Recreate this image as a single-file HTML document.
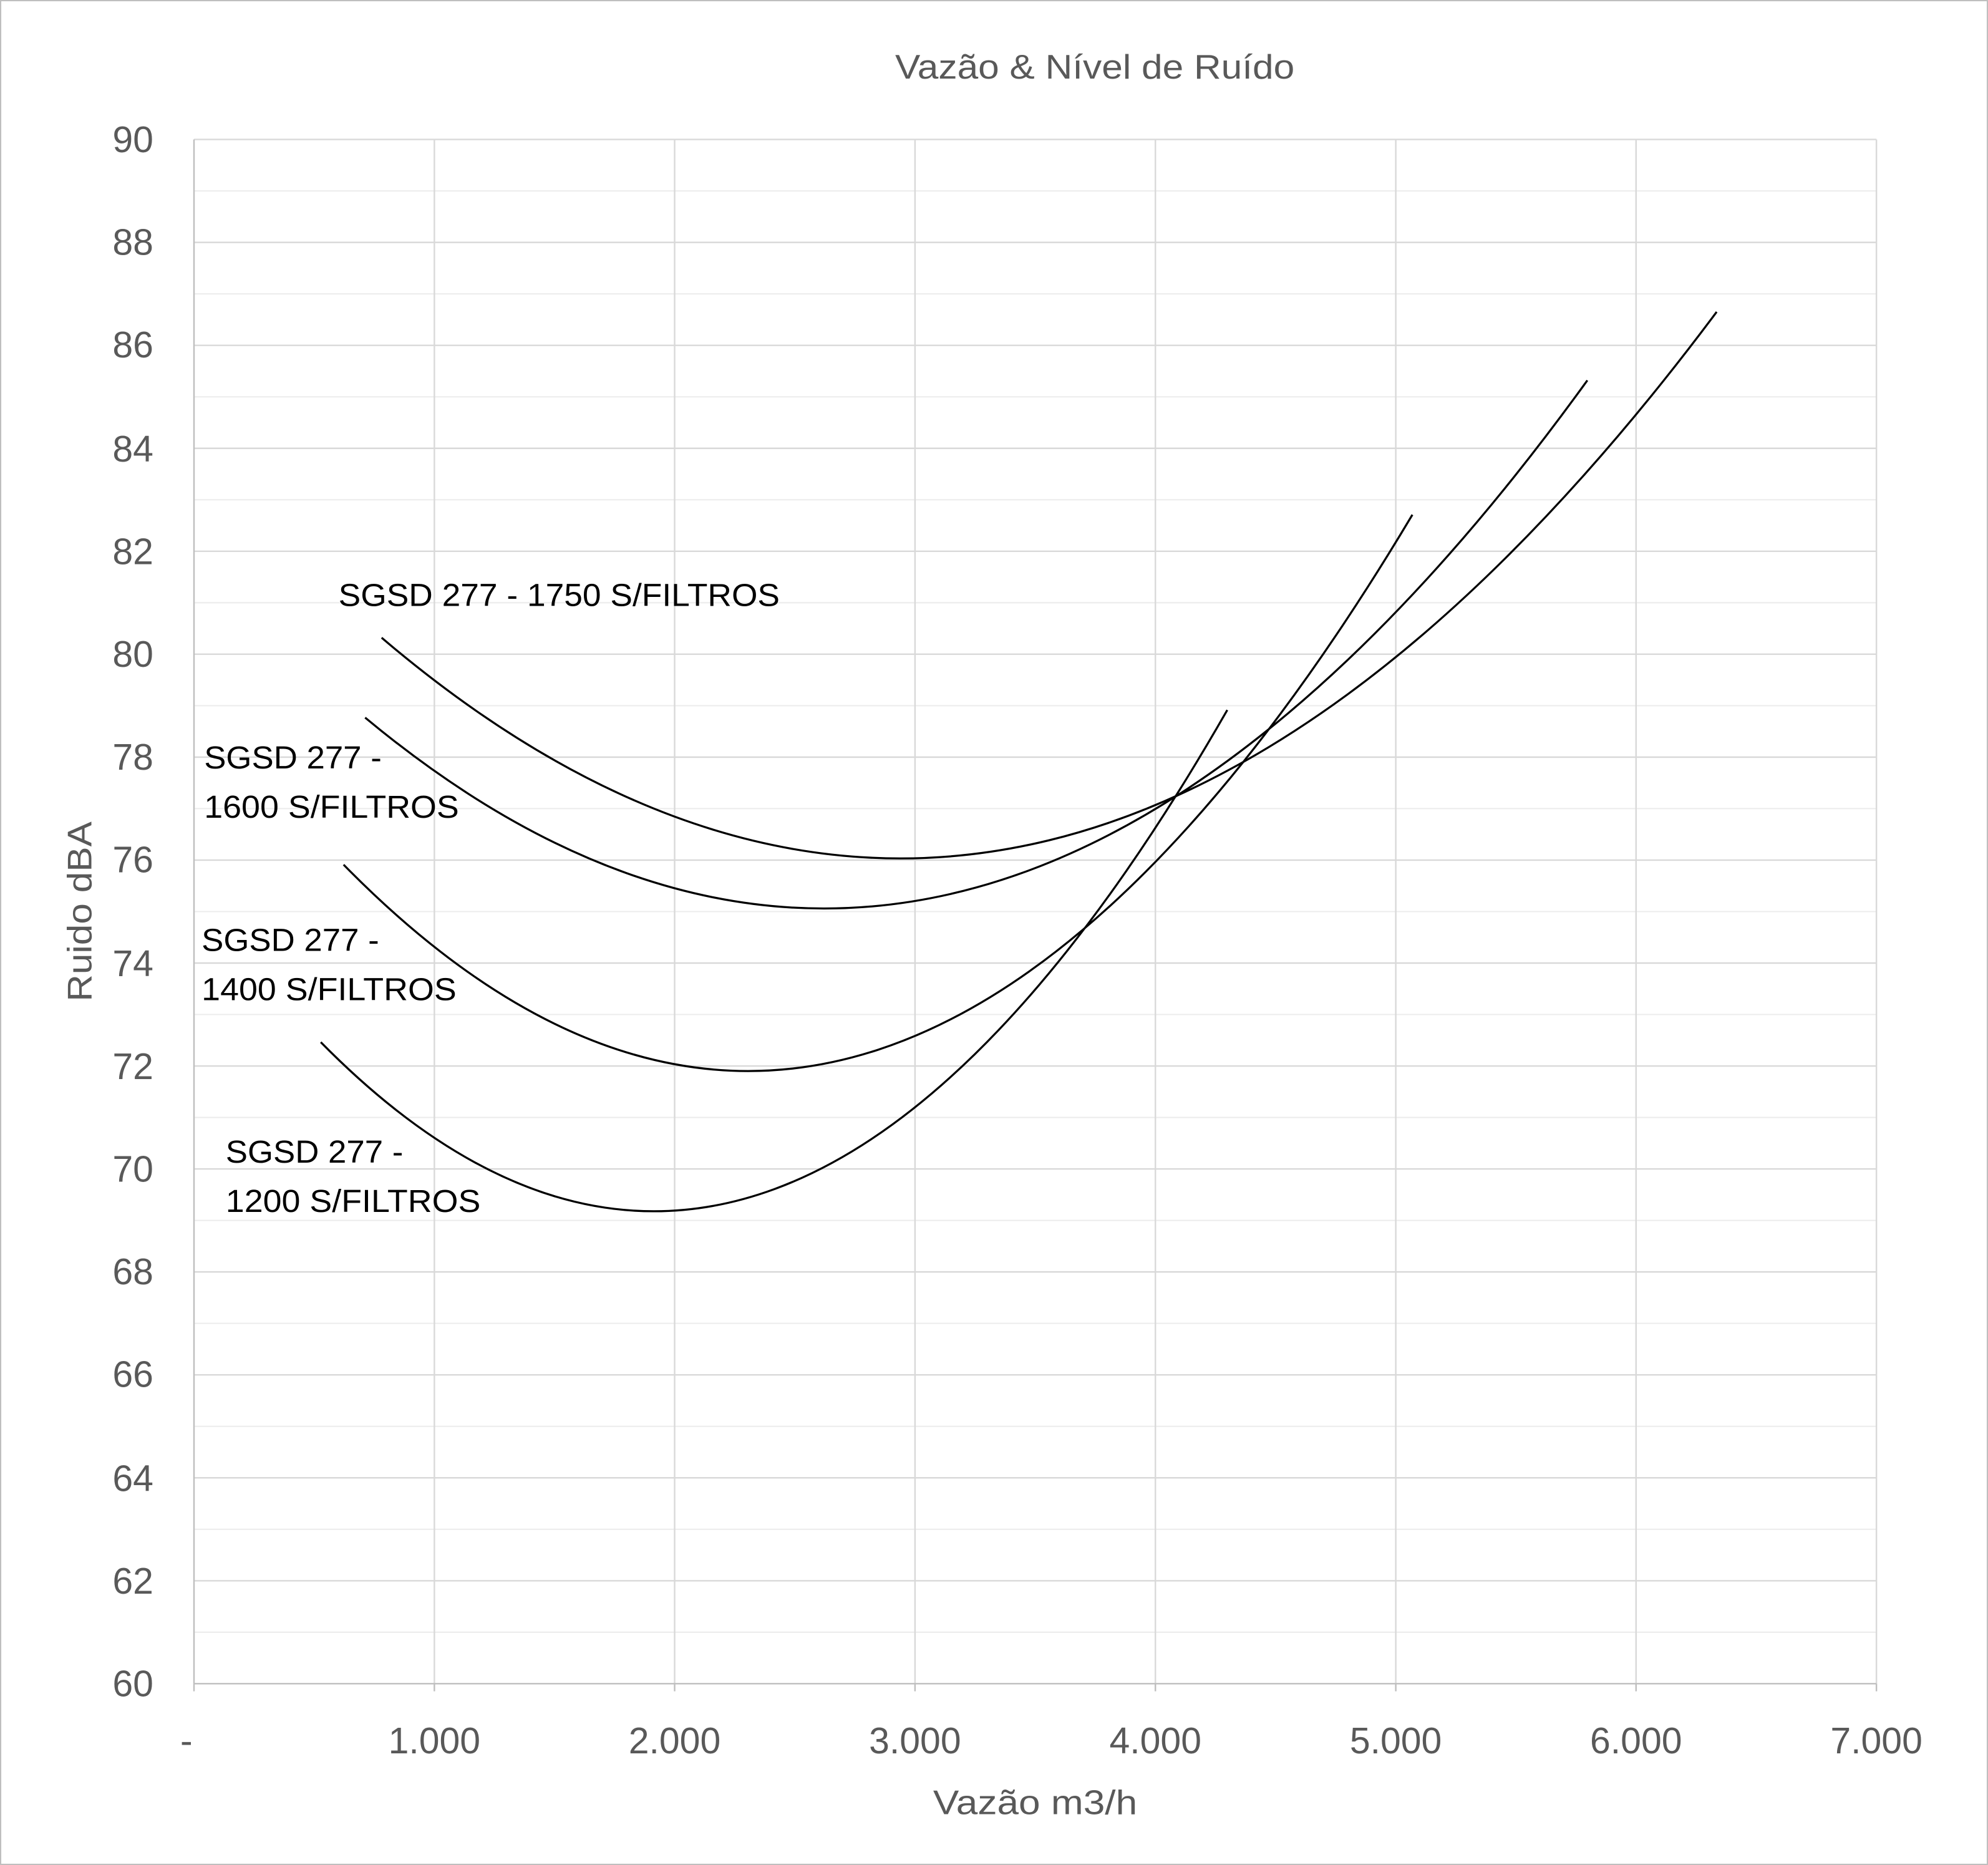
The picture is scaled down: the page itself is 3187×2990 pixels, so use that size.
<!DOCTYPE html>
<html><head><meta charset="utf-8"><style>
html,body{margin:0;padding:0;background:#fff;}
svg{display:block;}
text{font-family:"Liberation Sans",sans-serif;}
</style></head><body>
<svg width="3187" height="2990" viewBox="0 0 1568 1471" preserveAspectRatio="none" xmlns="http://www.w3.org/2000/svg">
<rect x="0.5" y="0.5" width="1567" height="1470" fill="#fff" stroke="#bfbfbf" stroke-width="1"/>
<g stroke="#ececec" stroke-width="1">
<line x1="153" y1="150.6" x2="1480" y2="150.6"/><line x1="153" y1="231.8" x2="1480" y2="231.8"/><line x1="153" y1="313" x2="1480" y2="313"/><line x1="153" y1="394.2" x2="1480" y2="394.2"/><line x1="153" y1="475.4" x2="1480" y2="475.4"/><line x1="153" y1="556.6" x2="1480" y2="556.6"/><line x1="153" y1="637.8" x2="1480" y2="637.8"/><line x1="153" y1="719" x2="1480" y2="719"/><line x1="153" y1="800.2" x2="1480" y2="800.2"/><line x1="153" y1="881.4" x2="1480" y2="881.4"/><line x1="153" y1="962.6" x2="1480" y2="962.6"/><line x1="153" y1="1043.8" x2="1480" y2="1043.8"/><line x1="153" y1="1125" x2="1480" y2="1125"/><line x1="153" y1="1206.2" x2="1480" y2="1206.2"/><line x1="153" y1="1287.4" x2="1480" y2="1287.4"/>
</g>
<g stroke="#d9d9d9" stroke-width="1.2">
<line x1="153" y1="110" x2="1480" y2="110"/><line x1="153" y1="191.2" x2="1480" y2="191.2"/><line x1="153" y1="272.4" x2="1480" y2="272.4"/><line x1="153" y1="353.6" x2="1480" y2="353.6"/><line x1="153" y1="434.8" x2="1480" y2="434.8"/><line x1="153" y1="516" x2="1480" y2="516"/><line x1="153" y1="597.2" x2="1480" y2="597.2"/><line x1="153" y1="678.4" x2="1480" y2="678.4"/><line x1="153" y1="759.6" x2="1480" y2="759.6"/><line x1="153" y1="840.8" x2="1480" y2="840.8"/><line x1="153" y1="922" x2="1480" y2="922"/><line x1="153" y1="1003.2" x2="1480" y2="1003.2"/><line x1="153" y1="1084.4" x2="1480" y2="1084.4"/><line x1="153" y1="1165.6" x2="1480" y2="1165.6"/><line x1="153" y1="1246.8" x2="1480" y2="1246.8"/>
<line x1="342.6" y1="110" x2="342.6" y2="1328"/><line x1="532.1" y1="110" x2="532.1" y2="1328"/><line x1="721.7" y1="110" x2="721.7" y2="1328"/><line x1="911.3" y1="110" x2="911.3" y2="1328"/><line x1="1100.9" y1="110" x2="1100.9" y2="1328"/><line x1="1290.4" y1="110" x2="1290.4" y2="1328"/><line x1="1480" y1="110" x2="1480" y2="1328"/>
</g>
<g stroke="#bfbfbf" stroke-width="1.2">
<line x1="153" y1="110" x2="153" y2="1328"/>
<line x1="153" y1="1328" x2="1480" y2="1328"/>
<line x1="153" y1="1328" x2="153" y2="1334"/><line x1="342.6" y1="1328" x2="342.6" y2="1334"/><line x1="532.1" y1="1328" x2="532.1" y2="1334"/><line x1="721.7" y1="1328" x2="721.7" y2="1334"/><line x1="911.3" y1="1328" x2="911.3" y2="1334"/><line x1="1100.9" y1="1328" x2="1100.9" y2="1334"/><line x1="1290.4" y1="1328" x2="1290.4" y2="1334"/><line x1="1480" y1="1328" x2="1480" y2="1334"/>
</g>
<g fill="#595959" font-size="29" text-anchor="end">
<text x="121" y="120">90</text><text x="121" y="201">88</text><text x="121" y="282">86</text><text x="121" y="364">84</text><text x="121" y="445">82</text><text x="121" y="526">80</text><text x="121" y="607">78</text><text x="121" y="688">76</text><text x="121" y="770">74</text><text x="121" y="851">72</text><text x="121" y="932">70</text><text x="121" y="1013">68</text><text x="121" y="1094">66</text><text x="121" y="1176">64</text><text x="121" y="1257">62</text><text x="121" y="1338">60</text>
</g>
<g fill="#595959" font-size="29" text-anchor="middle">
<text x="147" y="1383">-</text><text x="342.6" y="1383">1.000</text><text x="532.1" y="1383">2.000</text><text x="721.7" y="1383">3.000</text><text x="911.3" y="1383">4.000</text><text x="1100.9" y="1383">5.000</text><text x="1290.4" y="1383">6.000</text><text x="1480" y="1383">7.000</text>
</g>
<g fill="#595959" font-size="27">
<text x="736" y="1431" textLength="161" lengthAdjust="spacingAndGlyphs">Vazão m3/h</text>
<text x="706" y="62" textLength="315" lengthAdjust="spacingAndGlyphs">Vazão &amp; Nível de Ruído</text>
<text transform="translate(72,790) rotate(-90)" textLength="142" lengthAdjust="spacingAndGlyphs">Ruido dBA</text>
</g>
<g fill="none" stroke="#000" stroke-width="1.6">
<path d="M301 503 Q827.5 951 1354 246"/>
<path d="M288 566 Q770 967 1252 300"/>
<path d="M271 682 Q692.5 1112 1114 406"/>
<path d="M253 822 Q610.5 1185 968 560"/>
</g>
<g fill="#000" font-size="25">
<text x="267" y="478" textLength="348" lengthAdjust="spacingAndGlyphs">SGSD 277 - 1750 S/FILTROS</text>
<text x="161" y="606" textLength="140" lengthAdjust="spacingAndGlyphs">SGSD 277 -</text><text x="161" y="645" textLength="201" lengthAdjust="spacingAndGlyphs">1600 S/FILTROS</text>
<text x="159" y="750" textLength="140" lengthAdjust="spacingAndGlyphs">SGSD 277 -</text><text x="159" y="789" textLength="201" lengthAdjust="spacingAndGlyphs">1400 S/FILTROS</text>
<text x="178" y="917" textLength="140" lengthAdjust="spacingAndGlyphs">SGSD 277 -</text><text x="178" y="956" textLength="201" lengthAdjust="spacingAndGlyphs">1200 S/FILTROS</text>
</g>
</svg>
</body></html>
